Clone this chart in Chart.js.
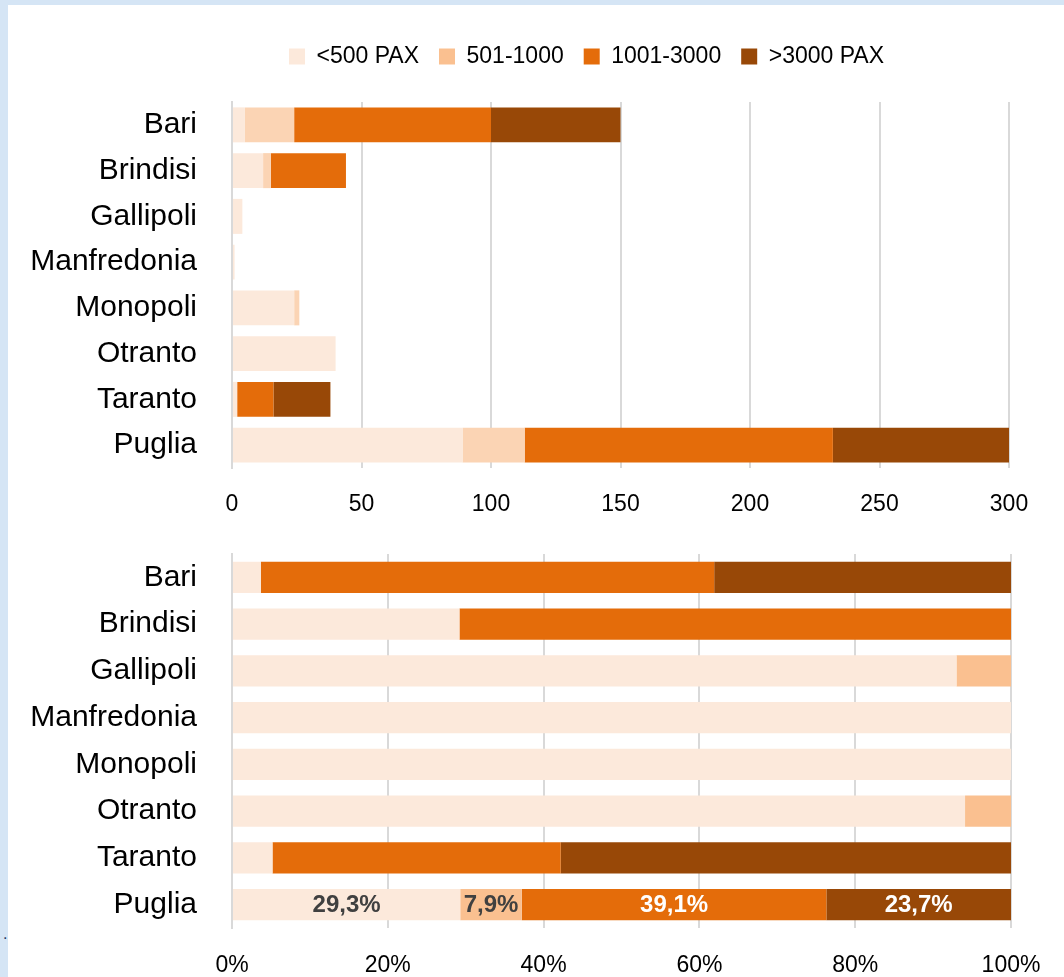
<!DOCTYPE html>
<html>
<head>
<meta charset="utf-8">
<script src="https://cdn.jsdelivr.net/npm/chart.js@4"></script>
<style>
  html, body { margin: 0; padding: 0; }
  body { width: 1064px; height: 977px; background: #d5e5f5; position: relative; overflow: hidden; }
  #panel { position: absolute; left: 8px; top: 5px; right: 0; bottom: 0; background: #fff; }
  #topWrap { position: absolute; left: 0; top: 0; width: 1064px; height: 530px; }
  #bottomWrap { position: absolute; left: 0; top: 530px; width: 1064px; height: 447px; }
  #dot { position: absolute; left: 3px; top: 925px; font: 16px 'Liberation Sans', Arial, sans-serif; color: #1f3864; }
</style>
</head>
<body>
<div id="panel"></div>
<div id="dot">.</div>
<div id="topWrap"><canvas id="countChart" width="1064" height="530"></canvas></div>
<div id="bottomWrap"><canvas id="shareChart" width="1064" height="447"></canvas></div>
<script>
const ports = ['Bari', 'Brindisi', 'Gallipoli', 'Manfredonia', 'Monopoli', 'Otranto', 'Taranto', 'Puglia'];
const classes = ['<500 PAX', '501-1000', '1001-3000', '>3000 PAX'];

// top chart: number of calls per size class
const callsUnder500 = [5, 12, 4, 1, 24, 40, 2, 89];
const calls501to1000 = [19, 3, 0, 0, 2, 0, 0, 24];
const calls1001to3000 = [76, 29, 0, 0, 0, 0, 14, 119];
const callsOver3000 = [50, 0, 0, 0, 0, 0, 22, 69];

// bottom chart: share (%) per size class
const shareUnder500 = [3.7, 29.2, 93.0, 100, 100, 94.1, 5.2, 29.3];
const share501to1000 = [0, 0, 7.0, 0, 0, 5.9, 0, 7.9];
const share1001to3000 = [58.2, 70.8, 0, 0, 0, 0, 37.0, 39.1];
const shareOver3000 = [38.1, 0, 0, 0, 0, 0, 57.8, 23.7];

const countTicks = [0, 50, 100, 150, 200, 250, 300];
const shareTicks = [0, 20, 40, 60, 80, 100];

const colors = ['#fce9db', '#fac090', '#e46c0a', '#984807'];
const topColors = ['#fce9db', '#fbd4b4', '#e46c0a', '#984807'];
const gridColor = '#d9d9d9';
const font = "'Liberation Sans', Arial, sans-serif";

function makeDatasets(series, palette, thickness) {
  return series.map((data, i) => ({
    label: classes[i],
    data,
    backgroundColor: palette[i],
    borderWidth: 0,
    categoryPercentage: thickness,
    barPercentage: 1,
  }));
}

function yScale() {
  return {
    stacked: true,
    grid: { display: false, drawTicks: false },
    border: { display: true, color: gridColor, width: 2 },
    ticks: { color: '#000', padding: 35, font: { family: font, size: 30 } },
    afterFit(scale) {
      scale.width = 232;
      scale.paddingTop = 0;
      scale.paddingBottom = 0;
    },
  };
}

function xScale(max, step, labelFn, height, pad) {
  return {
    stacked: true,
    min: 0,
    max,
    grid: { color: gridColor, lineWidth: 2, drawTicks: false },
    border: { display: false },
    ticks: {
      stepSize: step,
      color: '#000',
      padding: pad,
      maxRotation: 0,
      font: { family: font, size: 23 },
      callback: labelFn,
    },
    afterFit(scale) {
      scale.height = height;
      scale.paddingLeft = 0;
      scale.paddingRight = 0;
    },
  };
}

// extra room under the legend, and centre it over the plot instead of the canvas
const legendGap = {
  id: 'legendGap',
  beforeInit(chart) {
    const origFit = chart.legend.fit;
    chart.legend.fit = function fit() {
      origFit.bind(chart.legend)();
      this.height += 24;
    };
  },
  afterLayout(chart) {
    chart.legend.left = 164;
  },
};

new Chart(document.getElementById('countChart'), {
  type: 'bar',
  data: {
    labels: ports,
    datasets: makeDatasets([callsUnder500, calls501to1000, calls1001to3000, callsOver3000], topColors, 0.765),
  },
  options: {
    indexAxis: 'y',
    responsive: false,
    animation: false,
    layout: { padding: { top: 25, right: 55, left: 0, bottom: 0 } },
    plugins: {
      legend: {
        position: 'top',
        labels: {
          color: '#000',
          boxWidth: 16,
          boxHeight: 16,
          padding: 20,
          font: { family: font, size: 23 },
          generateLabels(chart) {
            const items = Chart.defaults.plugins.legend.labels.generateLabels(chart);
            items.forEach((item, i) => { item.fillStyle = colors[i]; item.strokeStyle = colors[i]; item.lineWidth = 0; });
            return items;
          },
        },
      },
      tooltip: { enabled: false },
    },
    scales: {
      x: xScale(300, 50, (v) => (countTicks.includes(v) ? String(v) : ''), 62, 23),
      y: yScale(),
    },
  },
  plugins: [legendGap],
});

const pugliaLabels = {
  id: 'pugliaLabels',
  afterDatasetsDraw(chart) {
    const { ctx } = chart;
    const last = ports.length - 1;
    ctx.save();
    ctx.font = `bold 24px ${font}`;
    ctx.textAlign = 'center';
    ctx.textBaseline = 'middle';
    chart.data.datasets.forEach((ds, i) => {
      const bar = chart.getDatasetMeta(i).data[last];
      const val = ds.data[last];
      if (!bar || !val) return;
      ctx.fillStyle = i < 2 ? '#404040' : '#fff';
      ctx.fillText(`${val.toFixed(1).replace('.', ',')}%`, (bar.x + bar.base) / 2, bar.y + 1);
    });
    ctx.restore();
  },
};

new Chart(document.getElementById('shareChart'), {
  type: 'bar',
  data: {
    labels: ports,
    datasets: makeDatasets([shareUnder500, share501to1000, share1001to3000, shareOver3000], colors, 0.667),
  },
  options: {
    indexAxis: 'y',
    responsive: false,
    animation: false,
    layout: { padding: { top: 24, right: 53, left: 0, bottom: 0 } },
    plugins: {
      legend: { display: false },
      tooltip: { enabled: false },
    },
    scales: {
      x: xScale(100, 20, (v) => (shareTicks.includes(v) ? `${v}%` : ''), 49, 24),
      y: yScale(),
    },
  },
  plugins: [pugliaLabels],
});
</script>
</body>
</html>
